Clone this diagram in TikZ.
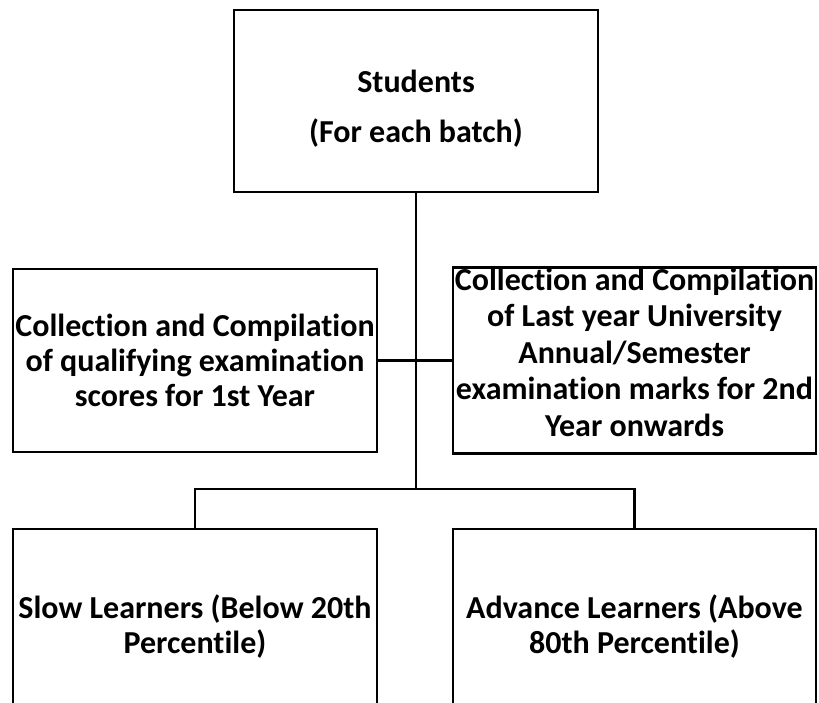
\documentclass[tikz,border=0pt]{standalone}
\usepackage{fontspec}
\setmainfont{Carlito}[RawFeature=-liga]
\begin{document}
\begin{tikzpicture}[x=1pt,y=-1pt,
  box/.style={draw=black, line width=2.8pt, fill=white, inner sep=0pt, align=center,
    font=\fontsize{32}{35}\selectfont\bfseries},
  link/.style={draw=black, line width=2.3pt}]
\useasboundingbox (0,0) rectangle (819,703);
\clip (0,0) rectangle (819,703);
\node[box, minimum width=364pt, minimum height=182pt] (top) at (416,101)
  {\rule{0pt}{38pt}Students\\[15pt](For each batch)};
\node[box, minimum width=364pt, minimum height=183pt] (left) at (195,360.5)
  {Collection and Compilation\\of qualifying examination\\scores for 1st Year};
\node[box, minimum width=363pt, minimum height=183pt,
  font=\fontsize{32}{36.5}\selectfont\bfseries] (right) at (634.5,360.5)
  {Collection and Compilation\\of Last year University\\Annual/Semester\\examination marks for 2nd\\Year onwards\rule[-17pt]{0pt}{0pt}};
\node[box, minimum width=364pt, minimum height=196pt] (slow) at (195,627)
  {Slow Learners (Below 20th\\Percentile)};
\node[box, minimum width=363pt, minimum height=196pt] (adv) at (634.5,627)
  {Advance Learners (Above\\80th Percentile)};
\coordinate (j) at (top.south |- 0,489);
\draw[link] (top.south) -- (j);
\draw[link] (left.east) -- (right.west);
\draw[link] (slow.north) -- (slow.north |- j) -- (adv.north |- j) -- (adv.north);
\end{tikzpicture}
\end{document}
